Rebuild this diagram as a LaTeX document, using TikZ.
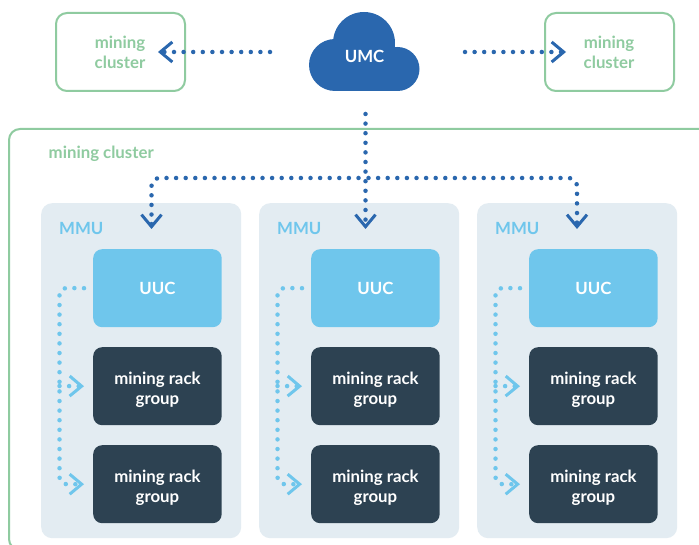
\documentclass[tikz,border=0pt]{standalone}
\usepackage{fontspec}
\setmainfont{Lato}
\usetikzlibrary{arrows.meta,calc}
\definecolor{cgreen}{HTML}{8FCBA0}
\definecolor{cblue}{HTML}{2A67AE}
\definecolor{clight}{HTML}{6FC6EC}
\definecolor{cpanel}{HTML}{E3ECF2}
\definecolor{cdark}{HTML}{2D4252}
\tikzset{
  x=1pt,y=-1pt,
  lbl/.style={font=\bfseries\fontsize{16.8}{20}\selectfont,align=center,inner sep=0pt},
  clusterbox/.style={draw=cgreen,line width=2pt,rounded corners=11pt,fill=white},
  panel/.style={fill=cpanel,rounded corners=11pt,minimum width=200pt,minimum height=335pt,inner sep=0pt},
  uuc/.style={fill=clight,rounded corners=9pt,minimum width=128.5pt,minimum height=78pt,inner sep=0pt,text=white,lbl},
  rack/.style={fill=cdark,rounded corners=9pt,minimum width=128.5pt,minimum height=78pt,inner sep=0pt,text=white,lbl,text depth=0pt,text height=36pt},
  dots/.style={line width=4.5pt,line cap=round,dash pattern=on 0pt off 9.6pt},
  chev/.style={-{Straight Barb[length=12pt,width=20pt,line width=3pt]}},
  bigdots/.style={dots,draw=cblue,rounded corners=8pt,chev},
  smalldots/.style={dots,draw=clight,rounded corners=7pt,chev},
}
\begin{document}
\begin{tikzpicture}
\useasboundingbox (0,0) rectangle (699,545);
\begin{scope}
\clip (0,0) rectangle (699,545);
\draw[clusterbox] (9,129) -- (720,129) -- (720,550) -- (9,550) -- cycle;
\end{scope}
\node[clusterbox,outer sep=0pt,minimum width=129pt,minimum height=78pt,inner sep=0pt,anchor=north west] (cl1) at (56,13) {};
\node[clusterbox,outer sep=0pt,minimum width=129pt,minimum height=78pt,inner sep=0pt,anchor=north west] (cl2) at (545,13) {};
\node[lbl,text=cgreen] (cl1t) at (120,52) {mining\\cluster};
\node[lbl,text=cgreen] (cl2t) at (609,52) {mining\\cluster};
\node[lbl,text=cgreen,anchor=west] (bigt) at (48.5,153.5) {mining cluster};
\fill[cblue] (335,65) circle[radius=26pt] (364,43) circle[radius=31pt] (397.5,69) circle[radius=22pt] (335,60) rectangle (397.5,91);
\node[lbl,text=white] (umc) at (364.5,56.5) {UMC};
\foreach \n/\x in {a/41,b/259,c/477}{
  \node[panel,anchor=north west] (p\n) at (\x,203) {};
  \node[lbl,text=clight,anchor=west] (m\n) at (\x+18,228) {MMU};
  \node[uuc,anchor=north west] (u\n) at (\x+52,249) {UUC};
  \node[rack,anchor=north west] (r\n) at (\x+52,347) {mining rack\\group};
  \node[rack,anchor=north west] (s\n) at (\x+52,445) {mining rack\\group};
  \coordinate (k\n) at (\x+18.5,288);
  \coordinate (j\n) at (\x+18.5,386);
}
\coordinate (ta) at (151.5,229);
\coordinate (tb) at (365.5,229);
\coordinate (tc) at (577,229);
\coordinate (eL) at (158,52);
\coordinate (eR) at (566,52);
\coordinate (sL) at (270,52);
\coordinate (sR) at (465,52);
\coordinate (sD) at (365.5,114);
\coordinate (hubL) at (358.5,178);
\coordinate (hubR) at (368.5,178);
\draw[bigdots] (sL) -- (eL);
\draw[bigdots] (sR) -- (eR);
\draw[bigdots] (sD) -- (tb);
\draw[bigdots] (hubL) -| (ta);
\draw[bigdots] (hubR) -| (tc);
\foreach \n in {a,b,c}{
  \draw[smalldots] ($(u\n.west)+(-9,0)$) -- (k\n) |- ($(s\n.west)+(-9,0)$);
  \draw[smalldots] (j\n) -- ($(r\n.west)+(-9,0)$);
}
\end{tikzpicture}
\end{document}
